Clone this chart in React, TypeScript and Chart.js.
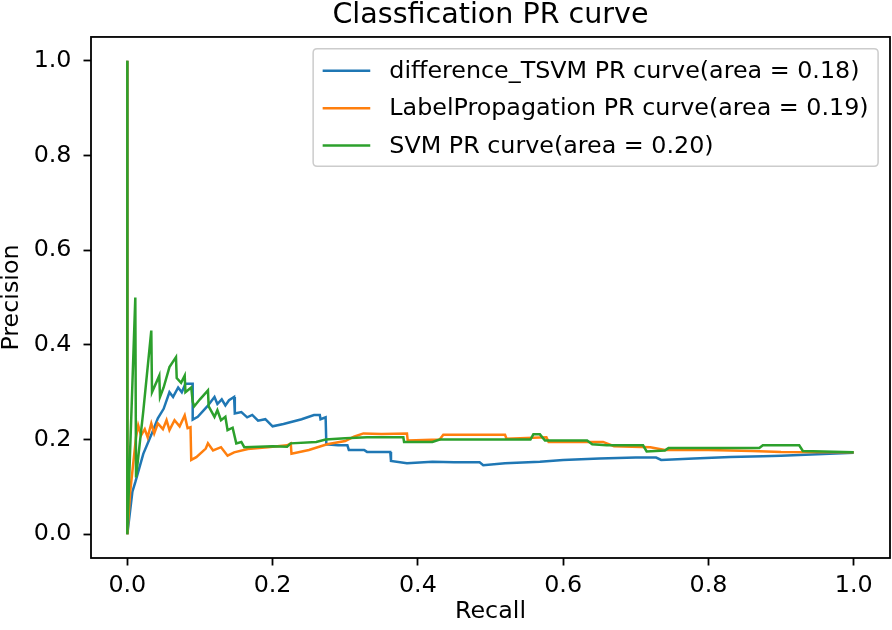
import React, { useEffect, useRef } from 'react';
import { Chart, registerables } from 'chart.js';

Chart.register(...registerables);

const TITLE = 'Classfication PR curve';
const X_LABEL = 'Recall';
const Y_LABEL = 'Precision';
const X_TICKS = [0, 0.2, 0.4, 0.6, 0.8, 1.0];
const Y_TICKS = [0, 0.2, 0.4, 0.6, 0.8, 1.0];
const SERIES_NAMES = [
  'difference_TSVM PR curve(area = 0.18)',
  'LabelPropagation PR curve(area = 0.19)',
  'SVM PR curve(area = 0.20)',
];
const SERIES_COLORS = ['#1f77b4', '#ff7f0e', '#2ca02c'];

const TSVM_RECALL = [
  0, 0, 0.007, 0.011, 0.022, 0.033, 0.042, 0.05, 0.058, 0.063, 0.07, 0.075, 0.08, 0.09, 0.09,
  0.097, 0.11, 0.12, 0.124, 0.13, 0.135, 0.14, 0.147, 0.148, 0.157, 0.165, 0.172, 0.18, 0.19,
  0.2, 0.215, 0.24, 0.257, 0.265, 0.266, 0.273, 0.274, 0.29, 0.303, 0.305, 0.326, 0.33, 0.362,
  0.363, 0.385, 0.42, 0.45, 0.485, 0.49, 0.52, 0.568, 0.6, 0.65, 0.7, 0.728, 0.735, 0.78, 0.83,
  0.875, 0.9, 0.95, 1.0,
];
const TSVM_PRECISION = [
  1.0, 0.0, 0.09, 0.11, 0.17, 0.21, 0.245, 0.265, 0.3, 0.29, 0.31, 0.3, 0.318, 0.318, 0.242,
  0.248, 0.27, 0.29, 0.275, 0.285, 0.272, 0.283, 0.29, 0.255, 0.258, 0.247, 0.252, 0.24, 0.243,
  0.228, 0.233, 0.243, 0.252, 0.252, 0.243, 0.247, 0.19, 0.188, 0.188, 0.178, 0.178, 0.174,
  0.174, 0.155, 0.15, 0.153, 0.152, 0.152, 0.146, 0.15, 0.153, 0.157, 0.16, 0.162, 0.162, 0.157,
  0.16, 0.163, 0.165, 0.166, 0.169, 0.172,
];

const LP_RECALL = [
  0, 0, 0.004, 0.012, 0.015, 0.019, 0.024, 0.028, 0.033, 0.037, 0.042, 0.049, 0.054, 0.058,
  0.065, 0.072, 0.079, 0.083, 0.087, 0.088, 0.095, 0.108, 0.111, 0.118, 0.129, 0.138, 0.147,
  0.166, 0.193, 0.22, 0.225, 0.226, 0.25, 0.275, 0.3, 0.312, 0.325, 0.35, 0.385, 0.386, 0.43,
  0.435, 0.52, 0.522, 0.577, 0.58, 0.655, 0.67, 0.72, 0.74, 0.8, 0.86, 0.9, 1.0,
];
const LP_PRECISION = [
  1.0, 0.0, 0.09, 0.205, 0.23, 0.209, 0.222, 0.205, 0.234, 0.213, 0.234, 0.222, 0.241, 0.22,
  0.241, 0.228, 0.251, 0.224, 0.226, 0.157, 0.163, 0.181, 0.192, 0.177, 0.184, 0.166, 0.173,
  0.18, 0.184, 0.188, 0.192, 0.17, 0.178, 0.19, 0.197, 0.206, 0.213, 0.212, 0.213, 0.198, 0.2,
  0.21, 0.21, 0.202, 0.205, 0.195, 0.195, 0.186, 0.184, 0.178, 0.178, 0.176, 0.174, 0.173,
];

const SVM_RECALL = [
  0, 0, 0.011, 0.012, 0.022, 0.033, 0.034, 0.044, 0.045, 0.05, 0.058, 0.067, 0.068, 0.074,
  0.079, 0.08, 0.088, 0.09, 0.092, 0.1, 0.111, 0.112, 0.12, 0.124, 0.129, 0.135, 0.138, 0.145,
  0.15, 0.157, 0.161, 0.2, 0.22, 0.225, 0.26, 0.273, 0.3, 0.33, 0.38, 0.381, 0.42, 0.43, 0.555,
  0.559, 0.568, 0.575, 0.633, 0.64, 0.66, 0.71, 0.715, 0.74, 0.745, 0.87, 0.875, 0.925, 0.93,
  1.0,
];
const SVM_PRECISION = [
  1.0, 0.0, 0.5, 0.12, 0.26, 0.43, 0.3, 0.335, 0.29, 0.31, 0.353, 0.374, 0.33, 0.32, 0.335, 0.3,
  0.31, 0.28, 0.27, 0.285, 0.304, 0.27, 0.248, 0.262, 0.241, 0.248, 0.22, 0.225, 0.192, 0.195,
  0.184, 0.186, 0.185, 0.192, 0.195, 0.2, 0.203, 0.205, 0.205, 0.195, 0.195, 0.2, 0.2, 0.211,
  0.211, 0.198, 0.198, 0.19, 0.188, 0.188, 0.175, 0.177, 0.182, 0.182, 0.188, 0.188, 0.176,
  0.173,
];

const FONT = '"DejaVu Sans", "Liberation Sans", sans-serif';
const FS = 23.8;
const LINE_W = 2.5;

function toPoints(xs: number[], ys: number[]) {
  return xs.map((x, i) => ({ x, y: ys[i] }));
}

const framePlugin = {
  id: 'frameAndLegend',
  afterDatasetsDraw(chart: any) {
    const { ctx, chartArea: a } = chart;
    ctx.save();
    ctx.strokeStyle = '#000';
    ctx.lineWidth = 1.8;
    ctx.strokeRect(a.left, a.top, a.right - a.left, a.bottom - a.top);

    ctx.font = `${FS}px ${FONT}`;
    const maxW = Math.max(...SERIES_NAMES.map((n) => ctx.measureText(n).width));
    const pad = 0.4 * FS;
    const handle = 2 * FS;
    const gap = 0.8 * FS;
    const right = a.right - 0.5 * FS;
    const top = a.top + 0.5 * FS;
    const w = pad + handle + gap + maxW + pad;
    const h = 117.5;
    const left = right - w;
    const r = 4;
    ctx.beginPath();
    ctx.moveTo(left + r, top);
    ctx.lineTo(left + w - r, top);
    ctx.quadraticCurveTo(left + w, top, left + w, top + r);
    ctx.lineTo(left + w, top + h - r);
    ctx.quadraticCurveTo(left + w, top + h, left + w - r, top + h);
    ctx.lineTo(left + r, top + h);
    ctx.quadraticCurveTo(left, top + h, left, top + h - r);
    ctx.lineTo(left, top + r);
    ctx.quadraticCurveTo(left, top, left + r, top);
    ctx.closePath();
    ctx.fillStyle = 'rgba(255,255,255,0.8)';
    ctx.fill();
    ctx.strokeStyle = '#cccccc';
    ctx.lineWidth = 1.5;
    ctx.stroke();

    ctx.textAlign = 'left';
    ctx.textBaseline = 'middle';
    SERIES_NAMES.forEach((name, i) => {
      const y = top + 22 + i * 37.3;
      ctx.strokeStyle = SERIES_COLORS[i];
      ctx.lineWidth = LINE_W;
      ctx.beginPath();
      ctx.moveTo(left + pad, y);
      ctx.lineTo(left + pad + handle, y);
      ctx.stroke();
      ctx.fillStyle = '#000';
      ctx.fillText(name, left + pad + handle + gap, y + 1);
    });
    ctx.restore();
  },
};

export default function App() {
  const canvasRef = useRef<HTMLCanvasElement | null>(null);

  useEffect(() => {
    document.body.style.margin = '0';
    const canvas = canvasRef.current;
    if (!canvas) return;
    const seriesData = [
      toPoints(TSVM_RECALL, TSVM_PRECISION),
      toPoints(LP_RECALL, LP_PRECISION),
      toPoints(SVM_RECALL, SVM_PRECISION),
    ];
    const chart = new Chart(canvas, {
      type: 'scatter',
      data: {
        datasets: seriesData.map((d, i) => ({
          label: SERIES_NAMES[i],
          data: d,
          showLine: true,
          borderColor: SERIES_COLORS[i],
          backgroundColor: SERIES_COLORS[i],
          borderWidth: LINE_W,
          pointRadius: 0,
          pointHoverRadius: 0,
          tension: 0,
          order: 3 - i,
        })),
      },
      options: {
        animation: false,
        responsive: false,
        devicePixelRatio: 1,
        events: [],
        layout: { padding: { left: 0, right: 2, top: 0, bottom: 0 } },
        plugins: {
          legend: { display: false },
          tooltip: { enabled: false },
          title: {
            display: true,
            text: TITLE,
            fullSize: false,
            color: '#000',
            font: { family: FONT, size: FS * 1.2, weight: 'normal', lineHeight: 1 },
            padding: { top: 1, bottom: 7.4 },
          },
        },
        scales: {
          x: {
            type: 'linear',
            min: -0.05,
            max: 1.05,
            afterBuildTicks: (s: any) => {
              s.ticks = X_TICKS.map((v) => ({ value: v }));
            },
            afterFit: (s: any) => {
              s.height = 72;
            },
            ticks: {
              color: '#000',
              font: { family: FONT, size: FS },
              padding: 6.5,
              callback: (v: any) => Number(v).toFixed(1),
              maxRotation: 0,
            },
            grid: {
              drawOnChartArea: false,
              drawTicks: true,
              tickLength: 7.5,
              tickWidth: 1.8,
              tickColor: '#000',
            },
            border: { display: false },
            title: {
              display: true,
              text: X_LABEL,
              color: '#000',
              font: { family: FONT, size: FS, lineHeight: 1.2 },
              padding: { top: 0, bottom: 3.7 },
            },
          },
          y: {
            type: 'linear',
            min: -0.05,
            max: 1.05,
            afterBuildTicks: (s: any) => {
              s.ticks = Y_TICKS.map((v) => ({ value: v }));
            },
            afterFit: (s: any) => {
              s.width = 91;
            },
            ticks: {
              color: '#000',
              font: { family: FONT, size: FS },
              padding: 12,
              callback: (v: any) => Number(v).toFixed(1),
            },
            grid: {
              drawOnChartArea: false,
              drawTicks: true,
              tickLength: 7.5,
              tickWidth: 1.8,
              tickColor: '#000',
            },
            border: { display: false },
            title: {
              display: true,
              text: Y_LABEL,
              color: '#000',
              font: { family: FONT, size: FS, lineHeight: 1 },
              padding: { top: 0, bottom: 0 },
            },
          },
        },
      },
      plugins: [framePlugin],
    });
    return () => {
      chart.destroy();
    };
  }, []);

  return (
    <div style={{ width: 892, height: 630, background: '#fff' }}>
      <canvas ref={canvasRef} width={892} height={630} style={{ display: 'block' }} />
    </div>
  );
}
